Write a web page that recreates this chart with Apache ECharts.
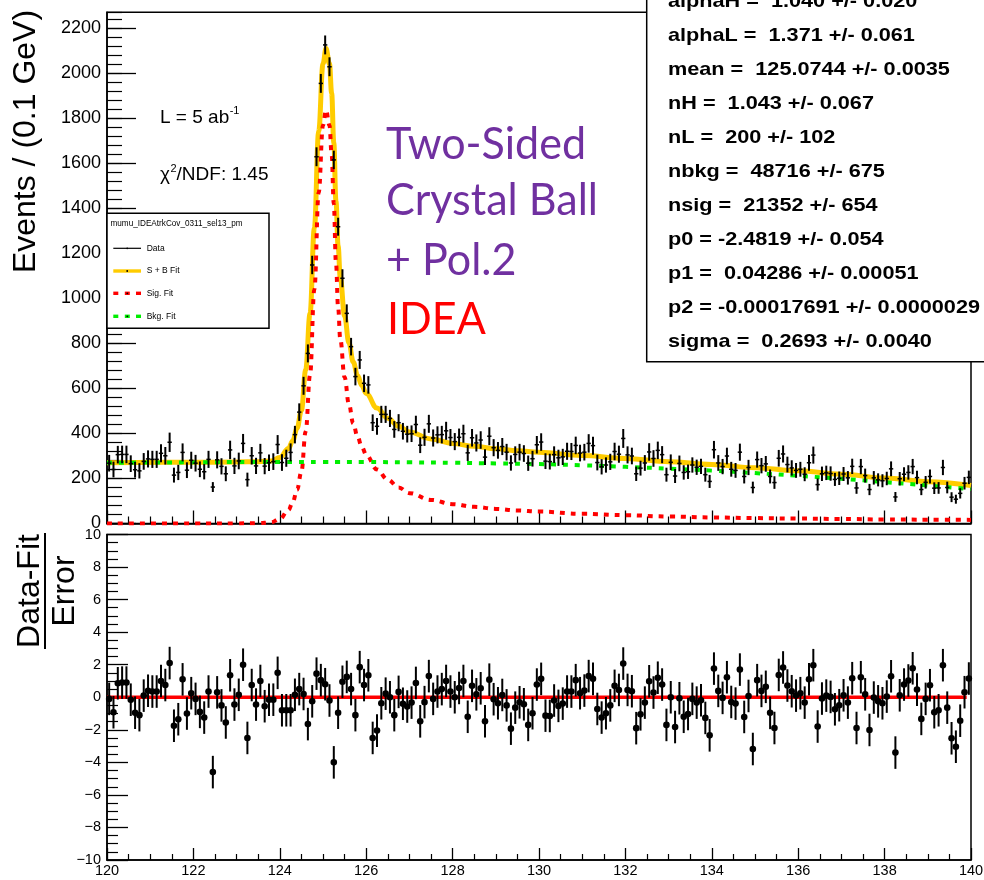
<!DOCTYPE html>
<html><head><meta charset="utf-8">
<script src="https://cdn.jsdelivr.net/npm/echarts@6/dist/echarts.min.js"></script>
<style>html,body{margin:0;padding:0;background:#fff}#c{width:984px;height:880px}</style>
</head><body><div id="c"></div>
<script>
// ---------------- data ----------------
const binLow = 120, binWidth = 0.1;

const counts = [268,240,306,307,307,266,239,234,276,287,
 285,285,312,301,361,215,227,316,237,281,
 268,241,230,285,162,283,254,221,327,256,
 278,356,195,301,256,314,255,270,275,351,
 271,290,316,395,495,612,756,1149,1630,1956,
 2127,2030,1616,1319,1090,934,786,653,727,623,
 616,448,432,485,485,467,418,448,410,397,
 399,440,348,383,443,380,394,395,412,382,
 364,383,399,314,381,358,371,295,388,337,
 325,342,317,269,307,317,311,268,288,350,
 362,277,275,306,292,296,321,320,347,313,
 317,356,346,271,252,260,274,320,308,378,
 305,300,221,246,269,318,289,325,306,217,
 272,211,267,227,230,260,250,254,217,187,
 328,269,253,300,241,236,317,209,249,160,
 284,257,265,209,182,290,309,262,247,236,
 241,219,270,304,173,221,225,222,196,201,
 220,203,254,158,253,213,151,203,194,190,
 200,243,118,199,219,227,253,204,151,183,
 209,157,158,249,160,117,108,134,179,205];

const countErrors = [37,35,39,39,39,37,35,34,37,38,
 38,38,40,39,43,33,34,40,35,38,
 37,35,34,38,22,38,36,33,41,36,
 37,42,31,39,36,40,36,37,37,42,
 37,38,40,39,39,40,40,41,42,42,
 42,42,41,40,40,40,39,39,40,39,
 39,37,37,38,38,38,37,38,37,37,
 37,39,35,38,40,38,38,39,40,38,
 38,39,40,36,39,38,39,35,40,38,
 37,38,37,34,36,37,37,34,35,39,
 39,35,35,37,36,36,38,38,39,37,
 37,41,40,35,34,34,36,39,38,42,
 38,37,32,33,35,39,37,39,38,31,
 35,31,35,32,32,34,34,34,31,29,
 39,35,34,37,33,33,38,31,34,26,
 36,34,35,31,28,37,38,35,34,33,
 33,31,35,38,27,32,32,32,29,30,
 31,30,34,26,34,31,25,30,29,29,
 30,33,22,30,31,32,34,30,25,28,
 31,26,26,34,26,22,20,23,28,30];

const pulls = [-0.1,-0.92,0.86,0.9,0.9,-0.15,-0.95,-1.1,0.1,0.4,
 0.35,0.35,1.0,0.75,2.1,-1.75,-1.35,1.1,-1.0,0.25,
 -0.1,-0.9,-1.25,0.35,-4.6,0.3,-0.5,-1.55,1.35,-0.45,
 0.15,2.0,-2.5,0.75,-0.45,1.0,-0.55,-0.15,-0.15,1.5,
 -0.8,-0.8,-0.8,0.15,0.5,0.2,-1.65,-0.25,1.45,1.05,
 0.8,-0.2,-4.0,-0.95,0.95,1.25,0.5,-1.1,1.85,0.75,
 1.35,-2.5,-2.05,-0.37,0.22,0.0,-1.1,0.33,-0.4,-0.57,
 -0.33,0.88,-1.48,-0.3,1.3,-0.1,0.35,0.5,1.0,0.35,
 0.0,0.57,1.0,-1.2,0.7,0.18,0.55,-1.48,1.08,-0.12,
 -0.37,0.14,-0.5,-1.93,-0.64,-0.31,-0.43,-1.7,-0.98,0.78,
 1.13,-1.13,-1.15,-0.2,-0.53,-0.39,0.35,0.35,1.05,0.25,
 0.41,1.3,1.13,-0.72,-1.25,-0.98,-0.5,0.7,0.45,2.07,
 0.45,0.37,-1.9,-1.05,-0.33,0.98,0.29,1.2,0.78,-1.7,
 0.0,-1.83,-0.06,-1.2,-1.03,-0.1,-0.33,-0.18,-1.27,-2.34,
 1.76,0.39,-0.04,1.23,-0.29,-0.39,1.7,-1.21,0.08,-3.18,
 1.05,0.39,0.64,-0.96,-1.89,1.37,1.83,0.72,0.37,0.1,
 0.25,-0.33,1.1,1.97,-1.8,-0.08,0.1,0.02,-0.74,-0.49,
 0.12,-0.33,1.17,-1.89,1.23,0.18,-2.01,-0.02,-0.25,-0.37,
 0.04,1.29,-3.4,0.12,0.78,1.03,1.78,0.47,-1.33,-0.1,
 0.74,-0.92,-0.8,1.97,-0.64,-2.52,-3.04,-1.44,0.31,1.15];

const curveX = [120,122,123,123.5,123.8,124.0,124.2,124.3,124.4,124.5,
 124.6,124.7,124.8,124.9,125.0,125.07,125.15,125.2,125.25,125.3,
 125.35,125.4,125.5,125.6,125.7,125.8,125.9,126.0,126.25,126.5,
 126.75,127,127.5,128,128.5,129,129.5,130,131,132,
 133,134,135,136,137,138,139,140];
const sigY = [0,0,0.5,1.5,5,20,60,95,150,230,
 410,660,1040,1470,1770,1838,1770,1640,1420,1160,
 960,820,650,530,445,385,340,305,240,195,
 160,135,105,86,74,65,58,53,43,37,
 31,27,24,22,20,18,17,16];
const sbY = [270,272,273.5,274.5,278,293,333,368,423,503,
 683,933,1313,1743,2043,2111,2043,1913,1693,1433,
 1233,1093,923,803,718,658,613,578,513,468,
 432,407,376,356,343,332,323,317,302,289,
 275,262,248,234,219,202,186,169];
const bkgX = [120,121,122,123,124,125,126,127,128,129,130,131,132,133,134,135,136,137,138,139,140];
const bkgY = [270,271,272,273,273,273,273,272,270,267,264,259,252,244,235,224,212,199,184,169,153];

const pullZeroLine = [[120,0],[139.9,0]];

const paramLines = ["alphaH =  1.040 +/- 0.020","alphaL =  1.371 +/- 0.061","mean =  125.0744 +/- 0.0035",
 "nH =  1.043 +/- 0.067","nL =  200 +/- 102","nbkg =  48716 +/- 675","nsig =  21352 +/- 654",
 "p0 = -2.4819 +/- 0.054","p1 =  0.04286 +/- 0.00051","p2 = -0.00017691 +/- 0.0000029","sigma =  0.2693 +/- 0.0040"];
const legendTitle = "mumu_IDEAtrkCov_0311_sel13_pm";
const legendLabels = ["Data","S + B Fit","Sig. Fit","Bkg. Fit"];
const purpleLines = ["Two-Sided","Crystal Ball","+ Pol.2"];
const redLine = "IDEA";

// ---------------- helpers ----------------
const mctx = document.createElement('canvas').getContext('2d');
function tw(str, font){ mctx.font = font; return mctx.measureText(str).width; }
const FAM = '"Liberation Sans", Arial, sans-serif';

function zip(xs, ys){ return xs.map((x,i)=>[x, ys[i]]); }
const dataPts = counts.map((n,i)=>[binLow + binWidth*(i+0.5), n, countErrors[i]]);
const pullPts = pulls.map((p,i)=>[binLow + binWidth*(i+0.5), p]);

function renderData(params, api){
  const x = api.value(0), n = api.value(1), e = api.value(2);
  const pL = api.coord([x - binWidth/2, n]), pR = api.coord([x + binWidth/2, n]);
  const pT = api.coord([x, n + e]), pB = api.coord([x, n - e]);
  return {type:'group', children:[
    {type:'line', shape:{x1:pT[0],y1:pT[1],x2:pB[0],y2:pB[1]}, style:{stroke:'#000', lineWidth:2}},
    {type:'line', shape:{x1:pL[0],y1:pL[1],x2:pR[0],y2:pR[1]}, style:{stroke:'#000', lineWidth:1.5}}
  ]};
}
function renderPull(params, api){
  const x = api.value(0), p = api.value(1);
  const c = api.coord([x,p]), t = api.coord([x,p+1]), b = api.coord([x,p-1]);
  return {type:'group', children:[
    {type:'line', shape:{x1:t[0],y1:t[1],x2:b[0],y2:b[1]}, style:{stroke:'#000', lineWidth:2}},
    {type:'circle', shape:{cx:c[0],cy:c[1],r:3.3}, style:{fill:'#000'}}
  ]};
}

function txt(str, x, y, font, opts){
  opts = opts || {};
  const el = {type:'text', x:x, y:y, z: opts.z || 110, silent:true,
    style:{text:str, font:font, fill: opts.fill || '#000',
      align: opts.align || 'left', textAlign: opts.align || 'left',
      verticalAlign: opts.va || 'middle', textVerticalAlign: opts.va || 'middle'}};
  if (opts.rotation) el.rotation = opts.rotation;
  if (opts.scaleX) el.scaleX = opts.scaleX;
  if (opts.scaleY) el.scaleY = opts.scaleY;
  return el;
}
function seg(x1,y1,x2,y2,color,w,z){
  return {type:'line', z:z||110, silent:true, shape:{x1,y1,x2,y2}, style:{stroke:color, lineWidth:w}};
}

// ---------------- graphics ----------------
const G = [];
// y titles
G.push(txt("Events / (0.1 GeV)", 26, 141.5, '32px '+FAM, {align:'center', rotation:Math.PI/2}));
G.push(txt("Data-Fit", 30, 591, '32px '+FAM, {align:'center', rotation:Math.PI/2}));
G.push(txt("Error", 65, 591, '32px '+FAM, {align:'center', rotation:Math.PI/2}));
G.push(seg(45, 533, 45, 649, '#000', 2));

// L and chi2
const f19 = '19px '+FAM, f11 = '11px '+FAM;
G.push(txt("L = 5 ab", 160, 117.5, f19));
G.push(txt("-1", 160 + tw("L = 5 ab", f19) + 0.5, 111, f11));
const chiW = tw("\u03c7", f19);
G.push(txt("\u03c7", 160, 175, f19));
G.push(txt("2", 160 + chiW + 0.5, 169, f11));
G.push(txt("/NDF: 1.45", 160 + chiW + 0.5 + tw("2", f11), 175, f19));

// legend box
G.push({type:'rect', z:105, silent:true, shape:{x:107, y:213.3, width:162, height:115}, style:{fill:'#fff', stroke:'#000', lineWidth:1.5}});
const fLeg = '8.5px '+FAM;
G.push(txt(legendTitle, 110.5, 224, fLeg, {scaleX: 132/tw(legendTitle, fLeg)}));
const legY = [248.3, 271, 293.3, 316.3];
legendLabels.forEach((l,i)=>G.push(txt(l, 146.7, legY[i], fLeg)));
G.push(seg(113.3, legY[0], 141, legY[0], '#000', 1.2));
G.push(seg(113.3, legY[1], 141, legY[1], '#FFCC00', 3.4));
G.push({type:'circle', z:111, silent:true, shape:{cx:127.2, cy:legY[0], r:0.9}, style:{fill:'#000'}});
G.push({type:'circle', z:111, silent:true, shape:{cx:127.2, cy:legY[1], r:0.9}, style:{fill:'#000'}});
[[legY[2],'#FF0000'],[legY[3],'#00EE00']].forEach(([y,c])=>{
  G.push(seg(113.3, y, 118.3, y, c, 3.4));
  G.push(seg(124.8, y, 129.8, y, c, 3.4));
  G.push(seg(136, y, 141, y, c, 3.4));
  G.push({type:'circle', z:111, silent:true, shape:{cx:127.3, cy:y, r:0.9}, style:{fill:'#000'}});
});

// purple / red big text
const fBig = '44px Lato, "Open Sans", sans-serif';
const bigScale = 212 / tw("Crystal Ball", fBig);
const bigY = [145, 201, 261];
purpleLines.forEach((l,i)=>G.push(txt(l, 386, bigY[i], fBig, {fill:'#7030A0', scaleX:bigScale})));
G.push(txt(redLine, 387, 320, fBig, {fill:'#FF0000', scaleX:bigScale}));

// parameter box
G.push({type:'rect', z:105, silent:true, shape:{x:646.7, y:-5, width:345, height:366.7}, style:{fill:'#fff', stroke:'#000', lineWidth:1.5}});
const fPar = 'bold 19px '+FAM;
const parScale = 312 / tw(paramLines[9], fPar);
paramLines.forEach((l,i)=>G.push(txt(l, 668, 1.5 + 34.02*i, fPar, {scaleX: parScale})));

// ---------------- chart ----------------
const axisBlack = {color:'#000', width:1.5};
const option = {
  animation:false,
  backgroundColor:'#fff',
  grid:[
    {left:107, top:12.3, width:864, height:511.2, show:true, borderColor:'#000', borderWidth:1.5, backgroundColor:'transparent', containLabel:false, outerBoundsMode:'none'},
    {left:107, top:534.5, width:864, height:325.5, show:true, borderColor:'#000', borderWidth:1.5, backgroundColor:'transparent', containLabel:false, outerBoundsMode:'none'}
  ],
  xAxis:[
    {gridIndex:0, type:'value', min:120, max:140, interval:2, position:'bottom',
      axisLine:{show:true, onZero:false, lineStyle:axisBlack},
      axisTick:{show:true, inside:true, length:13, lineStyle:{color:'#000', width:1.3}},
      minorTick:{show:true, splitNumber:4, length:7, lineStyle:{color:'#000', width:1.2}},
      axisLabel:{show:false}, splitLine:{show:false}, minorSplitLine:{show:false}},
    {gridIndex:1, type:'value', min:120, max:140, interval:2, position:'bottom',
      axisLine:{show:true, onZero:false, lineStyle:axisBlack},
      axisTick:{show:true, inside:true, length:12, lineStyle:{color:'#000', width:1.3}},
      minorTick:{show:true, splitNumber:4, length:6, lineStyle:{color:'#000', width:1.2}},
      axisLabel:{show:true, margin:3, color:'#000', fontSize:14.5, fontFamily:'Liberation Sans'},
      splitLine:{show:false}, minorSplitLine:{show:false}}
  ],
  yAxis:[
    {gridIndex:0, type:'value', min:0, max:2272, interval:200, position:'left',
      axisLine:{show:true, onZero:false, lineStyle:axisBlack},
      axisTick:{show:true, inside:true, length:29, lineStyle:{color:'#000', width:1.3}},
      axisLabel:{show:true, margin:6, color:'#000', fontSize:18, fontFamily:'Liberation Sans', showMaxLabel:false,
        formatter:v=>String(v)},
      splitLine:{show:false}},
    {gridIndex:0, type:'value', min:0, max:2272, interval:40, position:'left', offset:0,
      axisLine:{show:false, onZero:false},
      axisTick:{show:true, inside:true, length:15, lineStyle:{color:'#000', width:1.2}},
      axisLabel:{show:false}, splitLine:{show:false}},
    {gridIndex:1, type:'value', min:-10, max:10, interval:2, position:'left',
      axisLine:{show:true, onZero:false, lineStyle:axisBlack},
      axisTick:{show:true, inside:true, length:21, lineStyle:{color:'#000', width:1.3}},
      minorTick:{show:true, splitNumber:4, length:11, lineStyle:{color:'#000', width:1.2}},
      axisLabel:{show:true, margin:6, color:'#000', fontSize:14.5, fontFamily:'Liberation Sans',
        formatter:v=>String(v).replace('-', '\u2212')},
      splitLine:{show:false}, minorSplitLine:{show:false}}
  ],
  series:[
    {type:'line', name:'S + B Fit', xAxisIndex:0, yAxisIndex:0, data:zip(curveX, sbY), smooth:0.4, smoothMonotone:'x',
      showSymbol:false, symbol:'none', z:2, lineStyle:{color:'#FFCC00', width:5}, silent:true},
    {type:'line', name:'Sig. Fit', xAxisIndex:0, yAxisIndex:0, data:zip(curveX, sigY), smooth:0.4, smoothMonotone:'x',
      showSymbol:false, symbol:'none', z:3, lineStyle:{color:'#FF0000', width:4, type:[5,6], cap:'butt'}, silent:true},
    {type:'line', name:'Bkg. Fit', xAxisIndex:0, yAxisIndex:0, data:zip(bkgX, bkgY), smooth:0.4,
      showSymbol:false, symbol:'none', z:3, lineStyle:{color:'#00EE00', width:4, type:[5,7], cap:'butt'}, silent:true},
    {type:'custom', name:'Data', xAxisIndex:0, yAxisIndex:0, data:dataPts, renderItem:renderData, z:4,
      encode:{x:0, y:1}, silent:true},
    {type:'line', xAxisIndex:1, yAxisIndex:2, data:pullZeroLine, showSymbol:false, symbol:'none', z:2,
      lineStyle:{color:'#FF0000', width:3.5}, silent:true},
    {type:'custom', name:'Pull', xAxisIndex:1, yAxisIndex:2, data:pullPts, renderItem:renderPull, z:4,
      encode:{x:0, y:1}, silent:true}
  ],
  graphic:{elements:G}
};
const chart = echarts.init(document.getElementById('c'), null, {renderer:'canvas', width:984, height:880});
chart.setOption(option);
</script>
</body></html>
